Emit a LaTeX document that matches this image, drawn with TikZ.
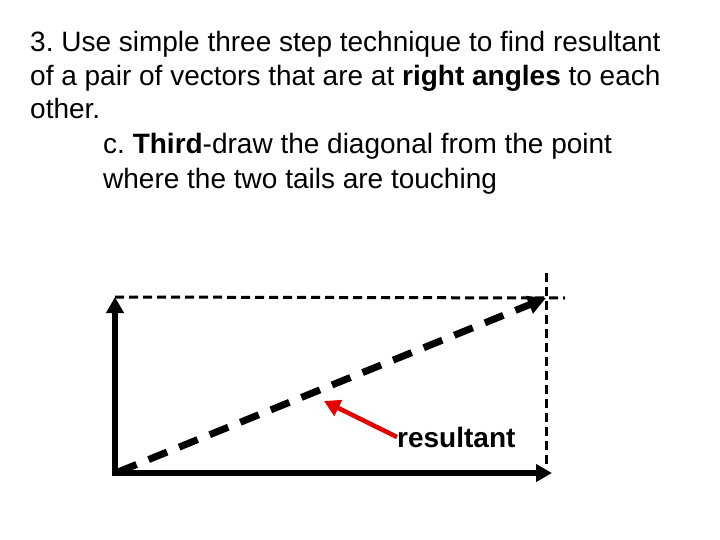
\documentclass[tikz,border=0pt]{standalone}
\usepackage{fontspec}
\setmainfont{Liberation Sans}
\usetikzlibrary{arrows.meta}
\frenchspacing
\tikzset{
	vec/.style={line width=5.5pt, -{Triangle[length=16pt,width=17pt]}},
	guide/.style={line width=3pt, dash pattern=on 9pt off 5pt},
	result/.style={line width=7pt, dash pattern=on 20pt off 13pt, -{Triangle[length=18pt,width=18pt]}},
	pointer/.style={line width=4.5pt, red!90!black, -{Triangle[length=16pt,width=17pt]}}
}
\begin{document}
\begin{tikzpicture}[x=1pt,y=-1pt]
		%%%%% START %%%%%
		\useasboundingbox[fill=white] (0,0) rectangle (720,540);
		
		\node[anchor=base west, align=left, font=\fontsize{28}{33.5}\selectfont, inner sep=0pt] (title) at (30,119)
			{3. Use simple three step technique to find resultant\\
			 of a pair of vectors that are at \textbf{right angles} to each\\
			 other.};
		\node[anchor=base west, align=left, font=\fontsize{28}{35}\selectfont, inner sep=0pt] (step) at (103,189)
			{c. \textbf{Third}-draw the diagonal from the point\\
			 where the two tails are touching};
		
		\coordinate (tail) at (115,473);
		\coordinate (up) at (115,297);
		\coordinate (right) at (552,473);
		\coordinate (corner) at (546,298);
		
		\draw[guide] (up) -- (565,298);
		\draw[guide] (546,273) -- (546,468);
		
		\draw[vec] (tail) -- (up);
		\draw[vec] (112.3,473) -- (right);
		
		\draw[result] (118,472) -- (corner);
		
		\node[anchor=west, font=\fontsize{28}{32}\selectfont\bfseries, inner sep=0pt] (label) at (397,437) {resultant};
		\draw[pointer] (label.west) -- (324,401);
		
		%%%%% END %%%%%
	\end{tikzpicture}
\end{document}
